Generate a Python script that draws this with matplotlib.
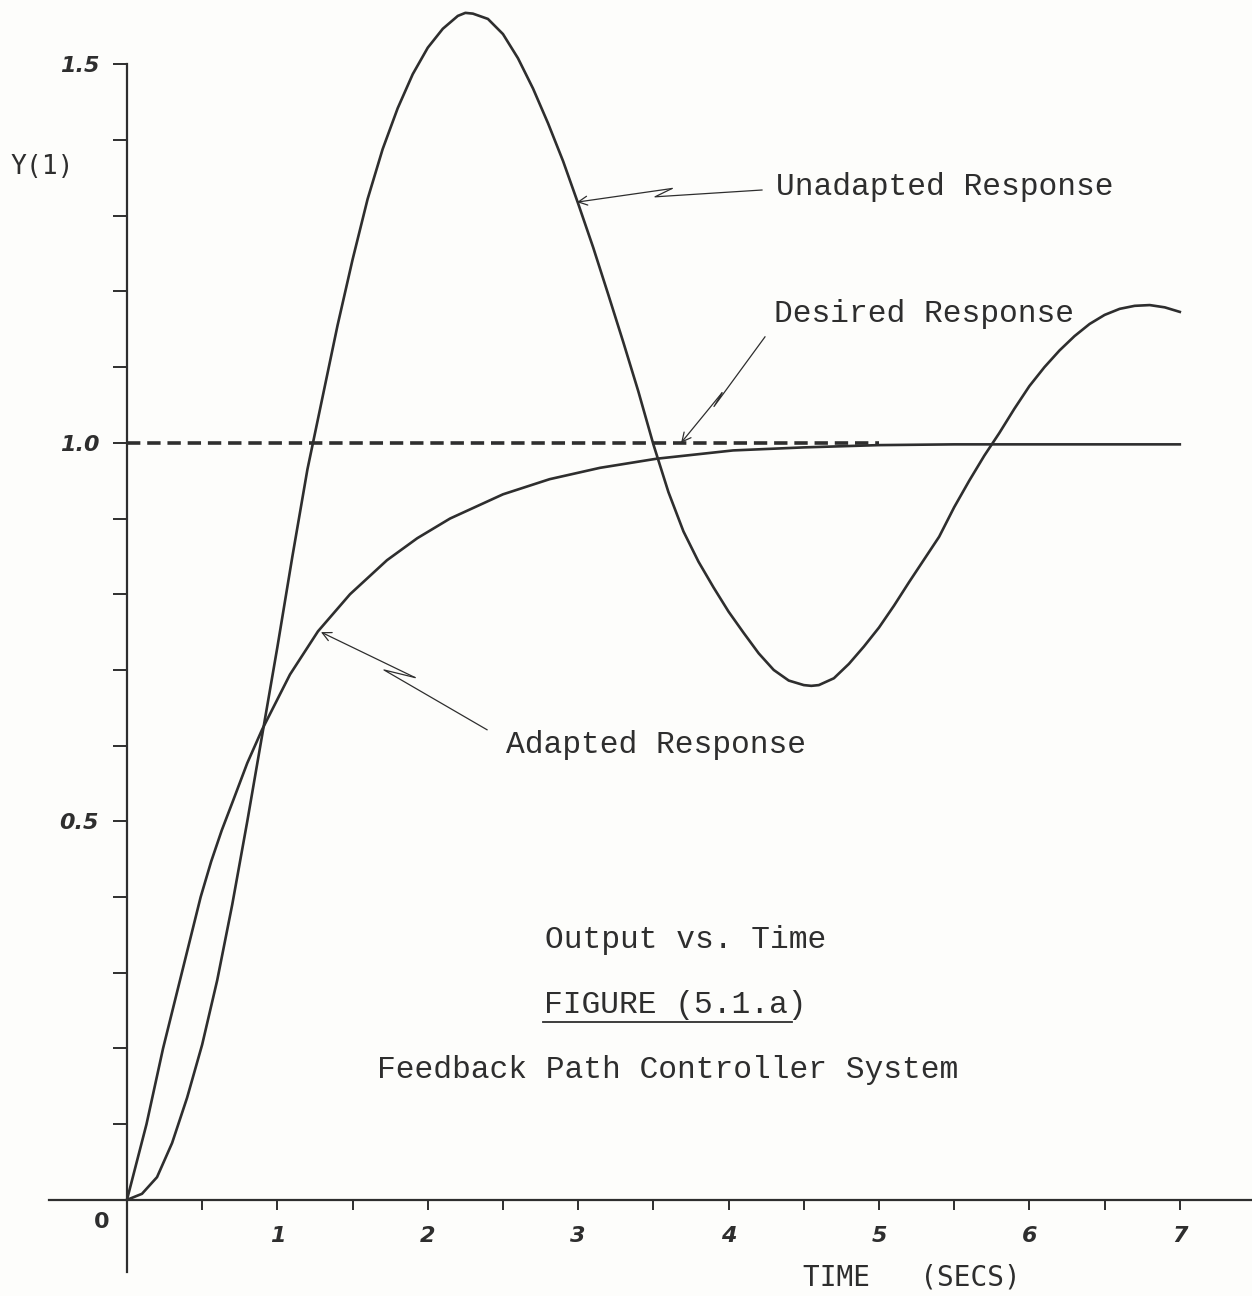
import numpy as np
import matplotlib.pyplot as plt

# values
unadapted_t = [0.0, 0.1, 0.2, 0.3, 0.4, 0.5, 0.6, 0.7, 0.8, 0.9, 1.0, 1.1, 1.2,
               1.3, 1.4, 1.5, 1.6, 1.7, 1.8, 1.9, 2.0, 2.1, 2.2, 2.25, 2.3, 2.4,
               2.5, 2.6, 2.7, 2.8, 2.9, 3.0, 3.1, 3.2, 3.3, 3.4, 3.5, 3.6, 3.7,
               3.8, 3.9, 4.0, 4.1, 4.2, 4.3, 4.4, 4.5, 4.55, 4.6, 4.7, 4.8, 4.9,
               5.0, 5.1, 5.2, 5.3, 5.4, 5.5, 5.6, 5.7, 5.8, 5.9, 6.0, 6.1, 6.2,
               6.3, 6.4, 6.5, 6.6, 6.7, 6.8, 6.9, 7.0]
unadapted_y = [0.0, 0.008, 0.030, 0.075, 0.135, 0.205, 0.290, 0.390, 0.500, 0.615, 0.730, 0.850, 0.965,
               1.060, 1.155, 1.242, 1.322, 1.388, 1.442, 1.487, 1.522, 1.547, 1.564, 1.568, 1.567, 1.560,
               1.540, 1.508, 1.468, 1.422, 1.372, 1.316, 1.258, 1.196, 1.133, 1.068, 0.998, 0.935, 0.883,
               0.843, 0.809, 0.777, 0.749, 0.722, 0.700, 0.686, 0.680, 0.679, 0.680, 0.689, 0.708, 0.731,
               0.756, 0.785, 0.816, 0.846, 0.876, 0.915, 0.950, 0.983, 1.013, 1.045, 1.075, 1.100, 1.122,
               1.141, 1.157, 1.169, 1.177, 1.181, 1.182, 1.179, 1.173]

adapted_t = [0.0, 0.13, 0.24, 0.365, 0.49, 0.56, 0.63, 0.705, 0.80, 0.898, 1.084, 1.27,
             1.483, 1.729, 1.93, 2.148, 2.5, 2.81, 3.145, 3.52, 4.03, 4.5, 5.0, 5.5, 6.0, 7.0]
adapted_y = [0.0, 0.10, 0.20, 0.30, 0.40, 0.447, 0.488, 0.527, 0.577, 0.621, 0.694, 0.751,
             0.800, 0.845, 0.874, 0.900, 0.932, 0.952, 0.967, 0.979, 0.990, 0.994, 0.997, 0.998, 0.998, 0.998]

desired_t = [0.0, 5.0]
desired_y = [1.0, 1.0]

x_major = [1, 2, 3, 4, 5, 6, 7]
x_labels = ['1', '2', '3', '4', '5', '6', '7']
x_minor = [0.5, 1.5, 2.5, 3.5, 4.5, 5.5, 6.5]
y_major = [0.5, 1.0, 1.5]
y_labels = ['0.5', '1.0', '1.5']
y_minor = [0.1, 0.2, 0.3, 0.4, 0.6, 0.7, 0.8, 0.9, 1.1, 1.2, 1.3, 1.4]

ink = '#2e2e2e'
paper = '#fdfdfb'
mono = 'Liberation Mono'

fig = plt.figure(figsize=(12.52, 12.96), dpi=100, facecolor=paper)
ax = fig.add_axes([0, 0, 1, 1], facecolor=paper)
ax.set_xlim(-0.844, 7.48)
ax.set_ylim(-0.127, 1.585)

for s in ['top', 'right']:
    ax.spines[s].set_visible(False)
ax.spines['left'].set_position(('data', 0))
ax.spines['bottom'].set_position(('data', 0))
ax.spines['left'].set_bounds(-0.095, 1.5)
ax.spines['bottom'].set_bounds(-0.52, 7.48)
for s in ['left', 'bottom']:
    ax.spines[s].set_color(ink)
    ax.spines[s].set_linewidth(1.6)

ax.set_xticks(x_major, x_labels)
ax.set_xticks(x_minor, minor=True)
ax.set_yticks(y_major, y_labels)
ax.set_yticks(y_minor, minor=True)
ax.tick_params(axis='x', which='both', direction='out', length=7, width=1.4,
               color=ink, pad=12)
ax.tick_params(axis='y', which='both', direction='out', length=10, width=1.4,
               color=ink, pad=10)
for lab in ax.get_xticklabels() + ax.get_yticklabels():
    lab.set_fontsize(16)
    lab.set_fontweight('bold')
    lab.set_fontstyle('italic')
    lab.set_color(ink)
ax.text(-0.166, -0.029, '0', fontsize=16, fontweight='bold', color=ink,
        ha='center', va='center')

# traces
ax.plot(desired_t, desired_y, color=ink, lw=2.6, linestyle=(0, (3.7, 1.9)))
ax.plot(adapted_t, adapted_y, color=ink, lw=1.9, solid_joinstyle='round')
ax.plot(unadapted_t, unadapted_y, color=ink, lw=1.9, solid_joinstyle='round')


def bolt(points):
    # zig-zag leader ending in an open arrow head at points[0]
    xs = [p[0] for p in points]
    ys = [p[1] for p in points]
    ax.plot(xs[1:], ys[1:], color=ink, lw=0.9)
    ax.annotate('', xy=points[0], xytext=points[1],
                arrowprops=dict(arrowstyle='->', color=ink, lw=0.9,
                                mutation_scale=16, shrinkA=0, shrinkB=0))


bolt([(2.992, 1.318), (3.624, 1.336), (3.511, 1.325), (4.222, 1.334)])
bolt([(3.684, 1.0), (3.956, 1.066), (3.903, 1.048), (4.242, 1.140)])
bolt([(1.290, 0.750), (1.915, 0.690), (1.709, 0.700), (2.394, 0.621)])

ax.text(4.315, 1.338, 'Unadapted Response', family=mono, fontsize=22.5,
        color=ink, ha='left', va='center')
ax.text(4.30, 1.170, 'Desired Response', family=mono, fontsize=22.5,
        color=ink, ha='left', va='center')
ax.text(2.52, 0.601, 'Adapted Response', family=mono, fontsize=22.5,
        color=ink, ha='left', va='center')

ax.text(3.717, 0.343, 'Output vs. Time', family=mono, fontsize=22.5,
        color=ink, ha='center', va='center')
ax.text(3.644, 0.258, 'FIGURE (5.1.a)', family=mono, fontsize=22.5,
        color=ink, ha='center', va='center')
ax.plot([2.766, 4.42], [0.235, 0.235], color=ink, lw=1.3)
ax.text(3.597, 0.172, 'Feedback Path Controller System', family=mono,
        fontsize=22.5, color=ink, ha='center', va='center')

ax.text(-0.565, 1.365, 'Y(1)', family='DejaVu Sans Mono', fontsize=19,
        color=ink, ha='center', va='center')
ax.text(5.22, -0.102, 'TIME   (SECS)', family='DejaVu Sans Mono', fontsize=20,
        color=ink, ha='center', va='center')

fig.savefig('out.png', dpi=100, facecolor=paper)
